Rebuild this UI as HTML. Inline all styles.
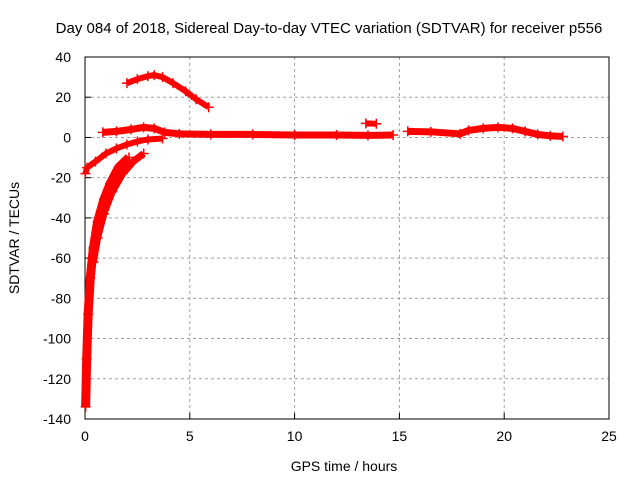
<!DOCTYPE html>
<html><head><meta charset="utf-8"><style>
body{margin:0;background:#fff;}
svg{display:block;font-family:"Liberation Sans",sans-serif;}
</style></head><body>
<svg id="chart" width="640" height="480" viewBox="0 0 640 480"></svg>
<script>
const xTicks=[0,5,10,15,20,25];
const yTicks=[40,20,0,-20,-40,-60,-80,-100,-120,-140];
const seriesArc=[[2.0,27],[2.5,29],[3.0,30.5],[3.3,31],[3.7,30],[4.2,27],[4.8,23],[5.3,19],[5.9,15]];
const seriesMain=[[0.85,2.5],[1.5,3],[2.2,4],[2.8,5],[3.3,4.5],[3.8,2.5],[4.5,1.8],[6,1.5],[8,1.5],[10,1.2],[12,1.2],[13.5,1],[14.7,1.2]];
const seriesBump=[[13.4,7],[13.9,6.8]];
const seriesRight=[[15.4,3],[16.5,2.8],[17.9,1.8],[18.3,3.5],[19,4.5],[19.7,5],[20.4,4.5],[21,3],[21.6,1.5],[22.2,0.8],[22.8,0.5]];
const seriesLow=[[0.02,-18],[0.1,-15],[0.5,-12],[1.0,-8],[1.5,-5.5],[2.0,-3.5],[2.5,-2],[3.0,-1],[3.7,-0.5]];
const seriesSteepA=[[0.03,-134],[0.08,-110],[0.15,-88],[0.25,-70],[0.4,-55],[0.6,-42],[0.9,-31],[1.2,-23],[1.6,-15],[2.1,-10]];
const seriesSteepB=[[0.4,-62],[0.6,-50],[0.9,-38],[1.3,-27],[1.8,-18],[2.3,-12],[2.8,-8]];
const NS="http://www.w3.org/2000/svg";
const svg=document.getElementById('chart');
const X0=85,X1=609,Y0=57,Y1=419;
const sx=v=>X0+(v-0)/(25)*(X1-X0);
const sy=v=>Y0+(40-v)/(180)*(Y1-Y0);
function mk(tag,attrs,parent){const e=document.createElementNS(NS,tag);for(const k in attrs)e.setAttribute(k,attrs[k]);(parent||svg).appendChild(e);return e;}
xTicks.forEach(t=>{if(t>0&&t<25){const l=mk('line',{x1:sx(t),x2:sx(t),y1:Y0,y2:Y1,stroke:'#a0a0a0','stroke-dasharray':'3,3'});}
 const tl=mk('line',{x1:sx(t),x2:sx(t),y1:Y1,y2:Y1-6,stroke:'#000'});
 const tx=mk('text',{x:sx(t),y:Y1+22,'text-anchor':'middle','font-size':'14'});tx.textContent=t;});
yTicks.forEach(t=>{if(t<40&&t>-140){const l=mk('line',{x1:X0,x2:X1,y1:sy(t),y2:sy(t),stroke:'#a0a0a0','stroke-dasharray':'3,3'});}
 const tl=mk('line',{x1:X0,x2:X0+6,y1:sy(t),y2:sy(t),stroke:'#000'});
 const tx=mk('text',{x:X0-14,y:sy(t)+5,'text-anchor':'end','font-size':'14'});tx.textContent=t;});
const frame=mk('rect',{x:X0,y:Y0,width:X1-X0,height:Y1-Y0,fill:'none',stroke:'#000'});

function drawSeries(arr,name,w){
 const g=mk('g',{});
 mk('polyline',{points:arr.map(p=>sx(p[0])+','+sy(p[1])).join(' '),fill:'none',stroke:'#ff0000','stroke-width':w,'stroke-linejoin':'round'},g);
 arr.forEach(p=>{const m=mk('path',{d:`M${sx(p[0])-5},${sy(p[1])}h10M${sx(p[0])},${sy(p[1])-5}v10`,stroke:'#ff0000','stroke-width':1.5},g);
  });
}
drawSeries(seriesArc,'series-arc',6);
drawSeries(seriesMain,'series-main',7);
drawSeries(seriesBump,'series-bump',6);
drawSeries(seriesRight,'series-right',7);
drawSeries(seriesLow,'series-low',6);
drawSeries(seriesSteepA,'series-steep-a',9);
drawSeries(seriesSteepB,'series-steep-b',7);
const t1=mk('text',{x:329,y:33,'text-anchor':'middle','font-size':'15'});t1.textContent='Day 084 of 2018, Sidereal Day-to-day VTEC variation (SDTVAR) for receiver p556';

const t2=mk('text',{x:344,y:471,'text-anchor':'middle','font-size':'14'});t2.textContent='GPS time / hours';

const t3=mk('text',{x:19,y:238,'text-anchor':'middle','font-size':'14',transform:'rotate(-90 19 238)'});t3.textContent='SDTVAR / TECUs';

</script>
</body></html>
